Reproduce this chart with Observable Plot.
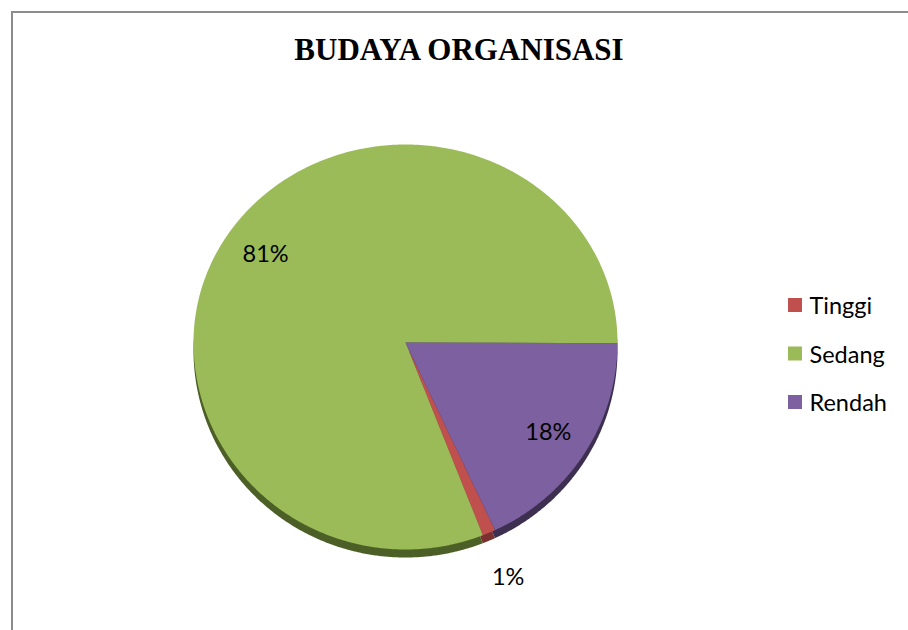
<!DOCTYPE html>
<html>
<head>
<meta charset="utf-8">
<script src="https://cdn.jsdelivr.net/npm/d3@7"></script>
<script src="https://cdn.jsdelivr.net/npm/@observablehq/plot@0.6"></script>
<style>
  html, body { margin: 0; padding: 0; background: #fff; }
  #wrap { position: relative; width: 908px; height: 630px; overflow: hidden; background: #fff; }
  #frame { position: absolute; left: 11px; top: 11px; width: 920px; height: 640px; border: 2px solid #8c8c8c; box-sizing: border-box; }
  #chart { position: absolute; left: 0; top: 0; }
  #title { position: absolute; left: 0; width: 918px; top: 32px; line-height: 35px; text-align: center;
           font-family: "Liberation Serif", "Times New Roman", serif; font-weight: bold; font-size: 31px; color: #000; }
</style>
</head>
<body>
<div id="wrap">
  <div id="frame"></div>
  <div id="chart"></div>
  <div id="title">BUDAYA ORGANISASI</div>
</div>
<script>
// ---- data ----
const categories = ["Tinggi", "Sedang", "Rendah"];
const values = [1, 81, 18];
const valueLabels = ["1%", "81%", "18%"];
const colors = ["#C0504D", "#9BBB59", "#7C60A0"];
const rimColors = ["#7a302e", "#4c5f27", "#3d2f50"];

// ---- layout ----
const W = 908, H = 630;
const cx = 405, cy = 342, rx = 212, ryTop = 198, ryBot = 207, depth = 8;
const startDeg = 155;
const rad = Math.PI / 180;

function pt(a, k = 1, dy = 0) {
  const c = Math.cos(a);
  return [cx + rx * k * Math.sin(a), cy - (c > 0 ? ryTop : ryBot) * k * c + dy];
}

const total = d3.sum(values);
let acc = startDeg * rad;
const slices = categories.map((name, i) => {
  const a0 = acc;
  const a1 = acc + values[i] / total * 2 * Math.PI;
  acc = a1;
  return {name, i, a0, a1, mid: (a0 + a1) / 2, frac: values[i] / total};
});

function sliceRows(s, dy) {
  const rows = [];
  const [x0, y0] = [cx, cy + dy];
  rows.push({name: s.name, x: x0, y: y0});
  const n = Math.max(2, Math.ceil((s.a1 - s.a0) / (0.4 * rad)));
  for (let j = 0; j <= n; j++) {
    const a = s.a0 + (s.a1 - s.a0) * j / n;
    const [x, y] = pt(a, 1, dy);
    rows.push({name: s.name, x, y});
  }
  rows.push({name: s.name, x: x0, y: y0});
  return rows;
}

const topRows = slices.flatMap(s => sliceRows(s, 0));

const labelRows = slices.map(s => {
  const k = s.frac < 0.05 ? 1.23 : 0.8;
  const [x, y] = pt(s.mid, k);
  return {name: s.name, label: valueLabels[s.i], x, y};
});

const legendX = 788, legendY0 = 305, legendStep = 48.5, sq = 14;
const legendRows = categories.map((name, i) => ({name, y: legendY0 + i * legendStep}));

const marks = [
  ...slices.map(s => Plot.line(sliceRows(s, depth), {x: "x", y: "y", fill: rimColors[s.i], stroke: "none", curve: "linear"})),
  Plot.line(topRows, {x: "x", y: "y", z: "name", fill: "name", stroke: "none", curve: "linear"}),
  Plot.text(labelRows, {x: "x", y: "y", text: "label", fill: "#000", fontSize: 23.5, dy: 1}),
  Plot.rect(legendRows, {x1: legendX, x2: legendX + sq, y1: d => d.y - sq / 2, y2: d => d.y + sq / 2, fill: "name"}),
  Plot.text(legendRows, {x: legendX + sq + 7, y: "y", text: "name", textAnchor: "start", fill: "#000", fontSize: 23.5, dy: 1})
];

const chart = Plot.plot({
  width: W, height: H,
  margin: 0,
  style: {fontFamily: "Lato, 'Open Sans', sans-serif", background: "transparent"},
  x: {domain: [0, W], range: [0, W], axis: null},
  y: {domain: [0, H], range: [0, H], axis: null},
  color: {domain: categories, range: colors},
  marks
});
document.getElementById("chart").appendChild(chart);
</script>
</body>
</html>
